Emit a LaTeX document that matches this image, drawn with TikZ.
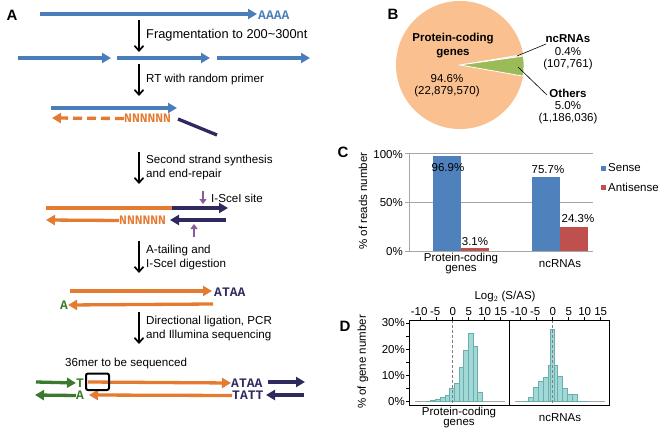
\documentclass[tikz,border=0pt]{standalone}
\usepackage{fontspec}
\setmainfont{Liberation Sans}
\setmonofont{Liberation Mono}
\usetikzlibrary{arrows.meta}
\definecolor{cblue}{HTML}{4A7EBB}
\definecolor{corange}{HTML}{E47B30}
\definecolor{cnavy}{HTML}{2E2A5E}
\definecolor{cpurple}{HTML}{8A5AA0}
\definecolor{cgreen}{HTML}{3B7A2E}
\definecolor{cpie}{HTML}{FAC08F}
\definecolor{cpiegreen}{HTML}{9BBB59}
\definecolor{csense}{HTML}{4F81BD}
\definecolor{canti}{HTML}{C0504D}
\definecolor{chist}{HTML}{A2D8D6}
\definecolor{chistline}{HTML}{6AAFAE}
\definecolor{cgrid}{HTML}{A6A6A6}
\tikzset{
  strand/.style={line width=3.3pt,-{Triangle[length=9pt,width=10pt]}},
  bare/.style={line width=3.3pt},
  stepdown/.style={line width=1.7pt,-{Straight Barb[length=5pt,width=9pt]}},
  site/.style={cpurple,line width=2.5pt,-{Triangle[length=5pt,width=7pt]}},
  txt/.style={anchor=west,inner sep=0pt,font=\fontsize{11.6}{13}\selectfont},
  lbl/.style={inner sep=0pt,font=\fontsize{11.5}{13}\selectfont},
  lbl2/.style={inner sep=0pt,align=center,font=\fontsize{11.5}{10}\selectfont},
  blbl/.style={inner sep=0pt,font=\fontsize{11.5}{13}\selectfont\bfseries},
  seq/.style={inner sep=0pt,font=\fontsize{13}{14}\selectfont\ttfamily\bfseries},
  panel/.style={inner sep=0pt,font=\fontsize{15}{16}\selectfont\bfseries},
  bar/.style={fill=chist,draw=chistline,line width=0.5pt},
}
\begin{document}
\begin{tikzpicture}[x=1pt,y=-1pt]
\useasboundingbox (0,0) rectangle (661,433);
\fill[white] (0,0) rectangle (661,433);
% ---------------- Panel A ----------------
\node[panel] (pA) at (12,15) {A};
\draw[strand,cblue] (40,14) -- (257,14);
\node[seq,cblue,anchor=west] (aaaa) at (258,15) {AAAA};
\draw[stepdown] (139,20) -- (139,52);
\node[txt,font=\fontsize{12.8}{14}\selectfont] (t1) at (146,35) {Fragmentation to 200\textasciitilde300nt};
\draw[strand,cblue] (18,58) -- (111,58);
\draw[strand,cblue] (117,58) -- (210,58);
\draw[strand,cblue] (217,58) -- (310,58);
\draw[stepdown] (139,64) -- (139,96);
\node[txt] (t2) at (146,80) {RT with random primer};
\draw[strand,cblue] (51,108) -- (177,108);
\node[seq,corange,anchor=west] (n1) at (124,118.5) {NNNNNN};
\draw[strand,corange,dash pattern=on 9pt off 5pt] (n1.west) -- (52,118);
\draw[bare,cnavy] (178,119) -- (217,135);
\draw[stepdown] (139,152) -- (139,184);
\node[txt] (t3) at (146,161) {Second strand synthesis};
\node[txt] (t4) at (146,175) {and end-repair};
\draw[site] (203,191) -- (203,204);
\node[txt] (site1) at (211,198) {I-SceI site};
\draw[bare,corange] (46,208) -- (173,208);
\draw[strand,cnavy] (172,208) -- (228,208);
\node[seq,corange,anchor=west] (n2) at (119,220.5) {NNNNNN};
\draw[strand,corange] (n2.west) -- (46,220);
\draw[strand,cnavy] (226,220) -- (170,220);
\draw[site] (194,237) -- (194,224);
\draw[stepdown] (139,241) -- (139,273);
\node[txt] (t5) at (146,250) {A-tailing and};
\node[txt] (t6) at (146,264) {I-SceI digestion};
\draw[strand,corange] (70,291) -- (212,291);
\node[seq,cnavy,anchor=west] (ataa1) at (214,292) {ATAA};
\node[seq,cgreen] (a1) at (64,305) {A};
\draw[strand,corange] (213,304) -- (a1.east);
\draw[stepdown] (139,312) -- (139,344);
\node[txt] (t7) at (146,321) {Directional ligation, PCR};
\node[txt] (t8) at (146,335) {and Illumina sequencing};
\node[txt] (t9) at (65,363) {36mer to be sequenced};
\node[seq,cgreen] (tt) at (80,383) {T};
\node[seq,cgreen] (aa) at (80,395.5) {A};
\node[seq,cnavy,anchor=west] (ataa2) at (231,383) {ATAA};
\node[seq,cnavy,anchor=west] (tatt) at (232,395.5) {TATT};
\draw[strand,cgreen] (36,382) -- (tt.west);
\draw[strand,cgreen] (aa.west) -- (35,395);
\draw[strand,corange] (88,382) -- (ataa2.west);
\draw[strand,corange] (tatt.west) -- (89,395);
\draw[strand,cnavy] (268,382) -- (305,382);
\draw[strand,cnavy] (304,395) -- (266,395);
\draw[line width=2pt,rounded corners=2pt] (86,373.5) rectangle (109,390);
% ---------------- Panel B ----------------
\node[panel] (pB) at (393,14) {B};
\fill[cpie] (460,65) circle (64);
\filldraw[fill=white!75!cpiegreen,draw=white,line width=0.6pt] (460,65) -- ++(-8:64) arc (-8:-9.5:64) -- cycle;
\filldraw[fill=cpiegreen,draw=white,line width=0.8pt] (460,65) -- ++(10:64) arc (10:-8:64) -- cycle;
\node[blbl,align=center,font=\fontsize{11.5}{14}\selectfont\bfseries] (pc1) at (453,46) {Protein-coding\\genes};
\node[lbl,align=center,font=\fontsize{11.5}{12}\selectfont] (pc3) at (447,86) {94.6\%\\(22,879,570)};
\node[align=center,inner sep=0pt,font=\fontsize{11.5}{12.5}\selectfont] (nc1) at (568,52.5) {\textbf{ncRNAs}\\0.4\%\\(107,761)};
\node[align=center,inner sep=0pt,font=\fontsize{11.5}{12}\selectfont] (ot1) at (568,107) {\textbf{Others}\\5.0\%\\(1,186,036)};
\draw[line width=0.6pt] (517,56) -- (546,44);
\draw[line width=0.6pt] (518,67) -- (547,95);
% ---------------- Panel C ----------------
\node[panel] (pC) at (343,152) {C};
\draw[cgrid,line width=0.7pt] (405,153) -- (593,153);
\draw[cgrid,line width=0.7pt] (405,202) -- (593,202);
\draw[cgrid,line width=0.9pt] (405,251) -- (593,251);
\draw[cgrid,line width=0.7pt] (409,153) -- (409,251);
\fill[csense] (433,156) rectangle (461,251);
\fill[canti] (461,248) rectangle (489,251);
\fill[csense] (532,176.8) rectangle (560,251);
\fill[canti] (560,227.2) rectangle (588,251);
\node[lbl,anchor=east] (y100) at (403,155) {100\%};
\node[lbl,anchor=east] (y50) at (403,203) {50\%};
\node[lbl,anchor=east] (y0) at (403,252) {0\%};
\node[lbl,rotate=90] (ytc) at (363,201) {\% of reads number};
\node[lbl] (v1) at (448,168) {96.9\%};
\node[lbl] (v2) at (475,242) {3.1\%};
\node[lbl] (v3) at (548,170) {75.7\%};
\node[lbl] (v4) at (578,219) {24.3\%};
\node[lbl2] (c1) at (461,264) {Protein-coding\\genes};
\node[lbl] (c3) at (560,264) {ncRNAs};
\fill[csense] (600.5,165.5) rectangle (605.5,170.5);
\fill[canti] (600.5,184.5) rectangle (605.5,189.5);
\node[lbl,anchor=west] (lg1) at (608,168) {Sense};
\node[lbl,anchor=west] (lg2) at (608,187) {Antisense};
% ---------------- Panel D ----------------
\node[panel] (pD) at (345,326) {D};
\node[lbl] (lg2t) at (505,297) {Log$_2$ (S/AS)};
\node[lbl,rotate=90] (ytd) at (363,362) {\% of gene number};
% baselines
\draw[cgrid,line width=0.6pt] (415,401.3) -- (505,401.3);
\draw[cgrid,line width=0.6pt] (515,401.3) -- (605,401.3);
% left histogram
\foreach \i/\h in {0/0.2,1/0.4,2/0.8,3/1.4,4/2.5,5/5,6/7,7/13,8/19.5,9/26,10/21,11/3.5}{
  \path[bar] ({426+4.7*\i},401.3) rectangle ({426+4.7*(\i+1)},{401.3-2.61*\h});
}
% right histogram
\foreach \i/\h in {0/0.2,1/1.5,2/5.5,3/7.7,4/9.2,5/13.7,6/13.7,7/9.6,8/5,9/2.8,10/2.8,11/0.2,12/0.1}{
  \path[bar] ({523.4+4.9*\i},401.3) rectangle ({523.4+4.9*(\i+1)},{401.3-2.61*\h});
}
\path[bar] (550.7,401.3) rectangle (554.7,{401.3-2.61*27.5});
\draw[gray,line width=1pt,dash pattern=on 3pt off 2pt] (452.7,320) -- (452.7,405);
\draw[gray,line width=1pt,dash pattern=on 3pt off 2pt] (552.7,320) -- (552.7,405);
\draw[line width=0.9pt] (409,320) rectangle (509,405);
\draw[line width=0.9pt] (509,320) rectangle (609,405);
\foreach \v/\t in {0/0\%,10/10\%,20/20\%,30/30\%}{
  \node[lbl,anchor=east] at (405,{401.3-2.61*\v}) {\t};
}
\foreach \v in {0,5,...,30}{
  \draw[line width=0.6pt] (406,{401.3-2.61*\v}) -- (409,{401.3-2.61*\v});
}
\foreach \o in {0,100}{
  \foreach \u/\t in {-10/-10,-5/-5,0/0,5/5,10/10,15/15}{
    \draw[line width=0.6pt] ({452.7+\o+3.2*\u},317) -- ({452.7+\o+3.2*\u},320);
    \node[lbl] at ({452.7+\o+3.2*\u-(\u<0 ? 1.5 : 0)},312) {\t};
  }
}
\node[lbl2] (d1) at (459,418) {Protein-coding\\genes};
\node[lbl] (d3) at (560,418) {ncRNAs};
\end{tikzpicture}
\end{document}
